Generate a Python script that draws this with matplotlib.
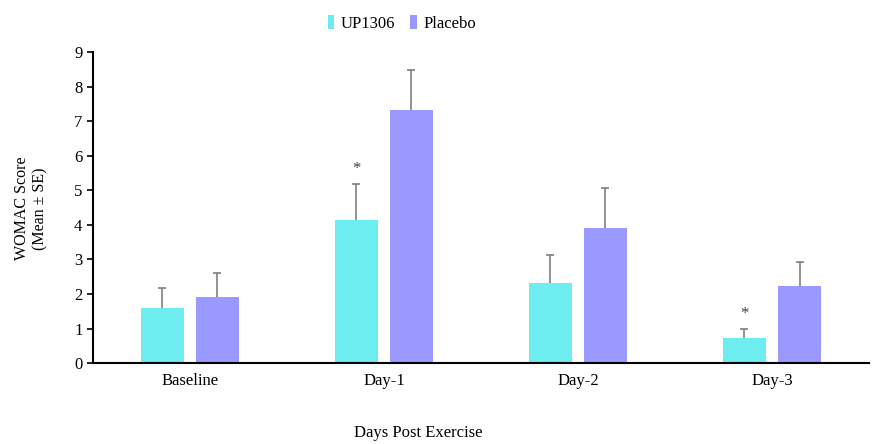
import numpy as np
import matplotlib.pyplot as plt

plt.rcParams['font.family'] = ['Liberation Serif', 'DejaVu Serif']

days = ["Baseline", "Day-1", "Day-2", "Day-3"]
up1306 = [1.59, 4.14, 2.31, 0.72]
up1306_se = [0.58, 1.04, 0.81, 0.26]
placebo = [1.91, 7.32, 3.90, 2.23]
placebo_se = [0.69, 1.16, 1.16, 0.69]
# groups where UP1306 differs significantly from placebo
signif = [False, True, False, True]

x = np.arange(len(days))
w = 0.224
off = 0.142

fig = plt.figure(figsize=(8.76, 4.44), dpi=100)
ax = fig.add_axes([0.106, 0.182, 0.886, 0.701])

err_kw = dict(ecolor="#7f7f7f", elinewidth=1.2, capsize=0)
for pos, vals, se, col, lab in [(x - off, up1306, up1306_se, "#6DEDF0", "UP1306"),
                                (x + off, placebo, placebo_se, "#9999FF", "Placebo")]:
    ax.bar(pos, vals, w, color=col, label=lab,
           yerr=[np.zeros(len(days)), se], error_kw=err_kw)
    # upper caps only
    ax.plot(pos, np.add(vals, se), linestyle="none", marker="_",
            markersize=6, markeredgewidth=1.2, color="#7f7f7f")

for xi, v, se, s in zip(x, up1306, up1306_se, signif):
    if s:
        ax.text(xi - off, v + se + 0.2, "*", ha="center", va="bottom",
                fontsize=12, color="#404040")

ax.set_xlim(-0.5, 3.5)
ax.set_ylim(0, 9)
ax.set_yticks(range(10))
ax.set_xticks(x)
ax.set_xticklabels(days)
ax.tick_params(axis="x", length=0, labelsize=12, pad=7)
ax.tick_params(axis="y", labelsize=12, direction="out", length=4, width=1.2)
for side in ("top", "right"):
    ax.spines[side].set_visible(False)
ax.spines["left"].set_linewidth(1.5)
ax.spines["bottom"].set_linewidth(1.5)

fig.text(0.036, 0.53, "WOMAC Score\n(Mean ± SE)", rotation=90,
         ha="center", va="center", fontsize=11.5)
fig.text(0.478, 0.025, "Days Post Exercise", ha="center", va="center",
         fontsize=12)

fig.legend(loc="upper center", bbox_to_anchor=(0.459, 1.0), ncol=2,
           frameon=False, fontsize=12, handlelength=0.4, handleheight=0.9,
           handletextpad=0.4, columnspacing=0.9)

fig.savefig("out.png", dpi=100)
